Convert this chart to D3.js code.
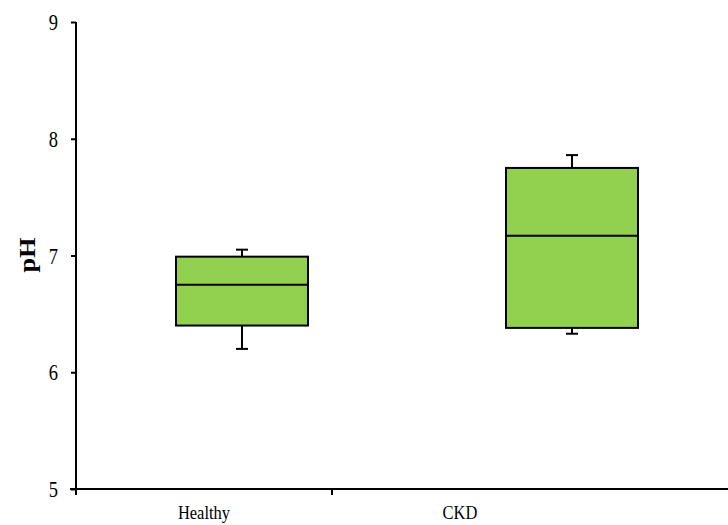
<!DOCTYPE html>
<html>
<head>
<meta charset="utf-8">
<script src="https://cdn.jsdelivr.net/npm/d3@7"></script>
<style>
  html, body { margin: 0; padding: 0; background: #fff; }
  svg { display: block; font-family: "Liberation Serif", "Times New Roman", serif; }
</style>
</head>
<body>
<svg id="chart" width="728" height="525"></svg>
<script>
// Groups and box-plot statistics (pH)
const categories = ["Healthy", "CKD"];
const whiskerLow = [6.20, 6.33];
const q1 = [6.40, 6.38];
const median = [6.75, 7.17];
const q3 = [6.99, 7.75];
const whiskerHigh = [7.05, 7.86];
const yTicks = [5, 6, 7, 8, 9];

const svg = d3.select("#chart");
const serif = "Liberation Serif, Times New Roman, serif";
const textStretch = 1.2;

const y = d3.scaleLinear().domain([5, 9]).range([489, 22]);

// Scale for category labels and tick marks on the x axis
const xAxisScale = d3.scaleBand().domain(categories).range([76, 588]);
// Scale for placing the boxes
const xBox = d3.scaleBand().domain(categories).range([77, 737])
  .paddingInner(0.6).paddingOuter(0.3);

const data = categories.map((c, i) => ({
  cat: c, lo: whiskerLow[i], q1: q1[i], med: median[i], q3: q3[i], hi: whiskerHigh[i]
}));

// Boxes
const g = svg.append("g");
const boxes = g.selectAll("g.box").data(data).join("g").attr("class", "box");

const capHalf = 6;
boxes.each(function(d) {
  const sel = d3.select(this);
  const x0 = xBox(d.cat), w = xBox.bandwidth(), cx = x0 + w / 2;
  const line = (x1, y1, x2, y2) => sel.append("line")
    .attr("x1", x1).attr("y1", y1).attr("x2", x2).attr("y2", y2)
    .attr("stroke", "#000").attr("stroke-width", 2);
  // whiskers with caps
  line(cx, y(d.q3), cx, y(d.hi));
  line(cx - capHalf, y(d.hi), cx + capHalf, y(d.hi));
  line(cx, y(d.q1), cx, y(d.lo));
  line(cx - capHalf, y(d.lo), cx + capHalf, y(d.lo));
  // box
  sel.append("rect").attr("x", x0).attr("width", w)
    .attr("y", y(d.q3)).attr("height", y(d.q1) - y(d.q3))
    .attr("fill", "#92d050").attr("stroke", "#000").attr("stroke-width", 2);
  // median
  line(x0, y(d.med), x0 + w, y(d.med));
});

// Y axis
const yAxis = svg.append("g").attr("transform", "translate(76,0)")
  .call(d3.axisLeft(y).tickValues(yTicks).tickFormat(d3.format("d")).tickSizeOuter(0).tickSize(5));
yAxis.select(".domain").attr("d", "M0,22V495").attr("stroke-width", 2);
yAxis.selectAll(".tick line").attr("stroke-width", 2);
yAxis.selectAll(".tick text")
  .attr("x", null).attr("dy", null)
  .attr("transform", `translate(-18,7.5) scale(1,${textStretch})`)
  .attr("font-size", 18.5).attr("fill", "#000").attr("font-family", serif);

// X axis
const xAxis = svg.append("g").attr("transform", "translate(0,489)")
  .call(d3.axisBottom(xAxisScale).tickSize(0));
xAxis.select(".domain").attr("d", "M70,0H728").attr("stroke-width", 2);
xAxis.selectAll(".tick text")
  .attr("y", null).attr("dy", null)
  .attr("transform", `translate(0,30) scale(1,${textStretch})`)
  .attr("font-size", 16.5).attr("fill", "#000").attr("font-family", serif);
// tick mark between the two categories
xAxis.append("line")
  .attr("x1", xAxisScale("CKD")).attr("x2", xAxisScale("CKD"))
  .attr("y1", 0).attr("y2", 6).attr("stroke", "#000").attr("stroke-width", 2);

// Y axis title
svg.append("text")
  .attr("transform", "translate(35,255) rotate(-90) scale(1.1,1)")
  .attr("text-anchor", "middle")
  .attr("font-size", 24).attr("font-weight", "bold").attr("font-family", serif)
  .text("pH");
</script>
</body>
</html>
